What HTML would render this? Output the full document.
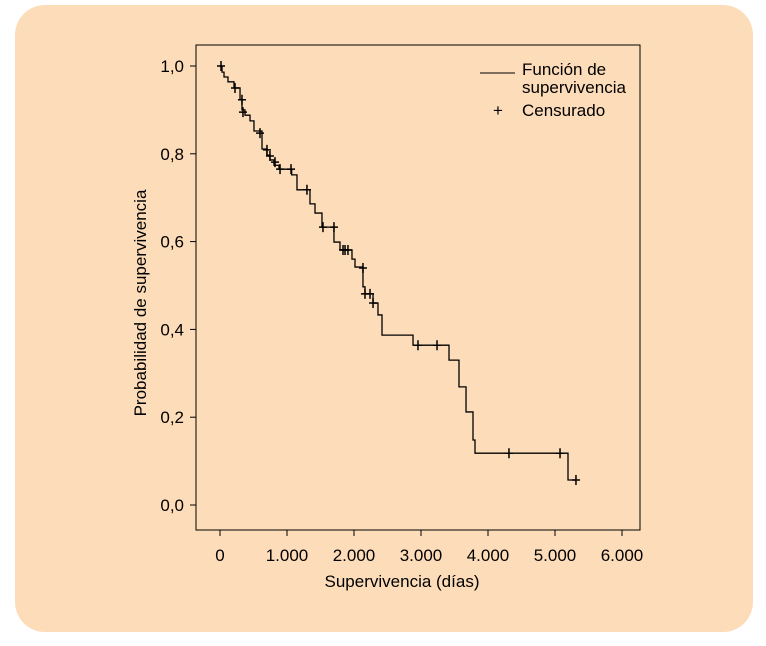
<!DOCTYPE html>
<html><head><meta charset="utf-8"><style>
html,body{margin:0;padding:0;background:#fff;}
svg{display:block;font-family:"Liberation Sans Narrow","Liberation Sans",sans-serif;}
</style></head><body>
<svg width="766" height="646" viewBox="0 0 766 646">
<rect x="15" y="5" width="738" height="627" rx="30" fill="#fddcb9"/>
<rect x="196" y="45" width="444" height="485" fill="none" stroke="#000" stroke-width="1"/>
<g id="axes"></g>
<g id="marks"></g>
<g>
<line x1="480" y1="73" x2="515" y2="73" stroke="#000"/>
<text x="522" y="75" font-size="17">Función de</text>
<text x="522" y="93" font-size="17">supervivencia</text>
<text x="498" y="116" font-size="17" text-anchor="middle">+</text>
<text x="522" y="116" font-size="17">Censurado</text>
</g>
<text x="402" y="587" font-size="17" text-anchor="middle">Supervivencia (días)</text>
<text transform="translate(146,303) rotate(-90)" font-size="17" text-anchor="middle">Probabilidad de supervivencia</text>
</svg>
<script>
const xTicks=[0,1000,2000,3000,4000,5000,6000];
const xTickLabels=["0","1.000","2.000","3.000","4.000","5.000","6.000"];
const yTicks=[0,0.2,0.4,0.6,0.8,1.0];
const yTickLabels=["0,0","0,2","0,4","0,6","0,8","1,0"];
const stepTimes=[30,60,119,209,299,328,373,448,507,627,701,746,806,881,1070,1149,1343,1418,1522,1701,1791,1970,2015,2134,2164,2284,2358,2418,2881,3418,3567,3672,3776,3806,5194];
const stepSurv=[0.986,0.975,0.964,0.950,0.923,0.900,0.888,0.875,0.852,0.811,0.797,0.786,0.774,0.765,0.752,0.718,0.686,0.665,0.633,0.599,0.581,0.560,0.542,0.497,0.481,0.460,0.433,0.387,0.364,0.330,0.269,0.212,0.148,0.118,0.057];
const endTime=5313;
const censorTimes=[15,224,328,343,597,701,746,821,896,1060,1298,1537,1701,1836,1866,1910,2134,2164,2239,2284,2955,3239,4313,5075,5313];
const censorSurv=[1.0,0.950,0.923,0.895,0.847,0.809,0.795,0.781,0.765,0.765,0.718,0.633,0.633,0.581,0.581,0.581,0.540,0.481,0.481,0.460,0.364,0.364,0.118,0.118,0.057];
const NS='http://www.w3.org/2000/svg';
const X=t=>220+t*(402/6000);
const Y=p=>505-p*439;
const axes=document.getElementById('axes');
const marks=document.getElementById('marks');
function mk(tag,attrs,parent){const e=document.createElementNS(NS,tag);for(const k in attrs)e.setAttribute(k,attrs[k]);parent.appendChild(e);return e;}
xTicks.forEach((v,i)=>{
 const l=mk('line',{x1:X(v),x2:X(v),y1:530,y2:536,stroke:'#000'},axes);
 
 
 const t=mk('text',{x:X(v),y:561,'font-size':17,'text-anchor':'middle'},axes);
 t.textContent=xTickLabels[i];
 
 
});
yTicks.forEach((v,i)=>{
 const l=mk('line',{x1:190,x2:196,y1:Y(v),y2:Y(v),stroke:'#000'},axes);
 
 
 const t=mk('text',{x:184,y:Y(v)+6,'font-size':17,'text-anchor':'end'},axes);
 t.textContent=yTickLabels[i];
 
 
});
let d='M'+X(0)+','+Y(1);let cur=1;
stepTimes.forEach((t,i)=>{d+=' H'+X(t)+' V'+Y(stepSurv[i]);cur=stepSurv[i];});
d+=' H'+X(endTime);
const p=mk('path',{d:d,fill:'none',stroke:'#000','stroke-width':1.3},marks);


censorTimes.forEach((t,i)=>{
 const x=X(t),y=Y(censorSurv[i]);
 const c=mk('path',{d:`M${x-4},${y} H${x+4} M${x},${y-5} V${y+5}`,stroke:'#000','stroke-width':1.5},marks);
 
 
});
</script>
</body></html>
